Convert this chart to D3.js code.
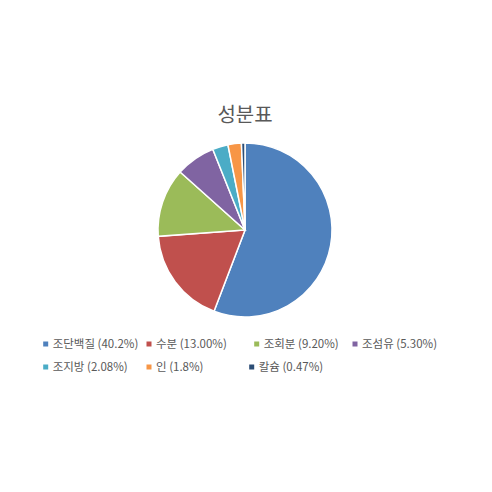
<!DOCTYPE html>
<html>
<head>
<meta charset="utf-8">
<script src="https://cdn.jsdelivr.net/npm/d3@7"></script>
<style>
  html, body { margin: 0; padding: 0; background: #fff; }
  text { font-family: "Noto Sans CJK KR", "Noto Sans", sans-serif; fill: #595959; }
</style>
</head>
<body>
<svg id="chart" width="492" height="492"></svg>
<script>
const names = ['조단백질', '수분', '조회분', '조섬유', '조지방', '인', '칼슘'];
const labels = ['40.2%', '13.00%', '9.20%', '5.30%', '2.08%', '1.8%', '0.47%'];
const values = [40.2, 13.00, 9.20, 5.30, 2.08, 1.8, 0.47];
const colors = ['#4F81BD', '#C0504D', '#9BBB59', '#8064A2', '#4BACC6', '#F79646', '#2C4D75'];

const svg = d3.select('#chart');
const cx = 245, cy = 230, radius = 87;

svg.append('text')
  .attr('x', 245)
  .attr('y', 122)
  .attr('text-anchor', 'middle')
  .attr('font-size', 20)
  .text('성분표');

const pie = d3.pie().sort(null).value(d => d);
const arc = d3.arc().innerRadius(0).outerRadius(radius);

svg.append('g')
  .attr('transform', `translate(${cx},${cy})`)
  .selectAll('path')
  .data(pie(values))
  .join('path')
  .attr('d', arc)
  .attr('fill', (d, i) => colors[i])
  .attr('stroke', '#fff')
  .attr('stroke-width', 1.5);

// legend layout: two rows
const legendPos = [
  [45.7, 344], [149, 344], [256.7, 344], [355, 344],
  [45.7, 367], [149, 367], [251.7, 367]
];

const legend = svg.append('g')
  .selectAll('g')
  .data(names)
  .join('g')
  .attr('transform', (d, i) => `translate(${legendPos[i][0]},${legendPos[i][1]})`);

legend.append('rect')
  .attr('x', -2.5).attr('y', -2.5)
  .attr('width', 5).attr('height', 5)
  .attr('fill', (d, i) => colors[i]);

legend.append('text')
  .attr('x', 7)
  .attr('y', 4)
  .attr('font-size', 11.5)
  .text((d, i) => `${d} (${labels[i]})`);
</script>
</body>
</html>
